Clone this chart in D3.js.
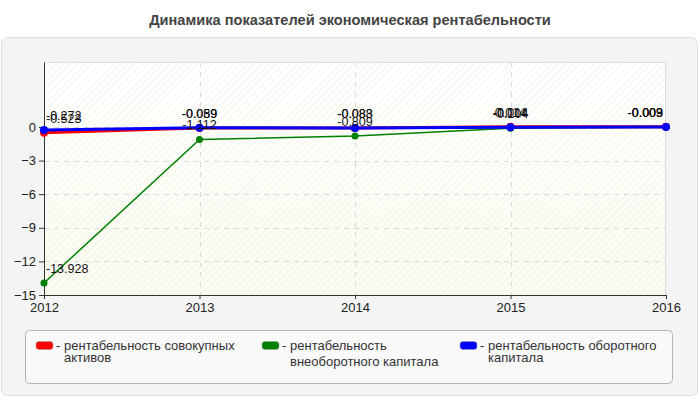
<!DOCTYPE html>
<html>
<head>
<meta charset="utf-8">
<script src="https://cdn.jsdelivr.net/npm/d3@7"></script>
<style>
  body { margin: 0; background: #fff; }
  text { font-family: "Liberation Sans Narrow", "Liberation Sans", Arial, sans-serif; }
</style>
</head>
<body>
<div id="chart"></div>
<script>
const years = [2012, 2013, 2014, 2015, 2016]
const seriesNames = [
    ['рентабельность совокупных', 'активов'],
    ['рентабельность', 'внеоборотного капитала'],
    ['рентабельность оборотного', 'капитала']
]
const totalAssets = [-0.523, -0.089, -0.088, 0.014, 0.009]
const fixedCapital = [-13.928, -1.112, -0.809, -0.104, -0.009]
const workingCapital = [-0.272, -0.059, -0.083, -0.014, -0.003]
const yTicks = [0, -3, -6, -9, -12, -15]
const colors = ['#ff0000', '#008000', '#0000ff']

const width = 700, height = 400
const margins = { top: 62, right: 34, bottom: 105, left: 44 }
const innerW = width - margins.left - margins.right
const innerH = height - margins.top - margins.bottom

const svg = d3.select('#chart').append('svg')
    .attr('width', width)
    .attr('height', height)

// hatch + gradient for plot background
const defs = svg.append('defs')
const hatch = defs.append('pattern')
    .attr('id', 'hatch')
    .attr('patternUnits', 'userSpaceOnUse')
    .attr('width', 5).attr('height', 5)
    .attr('patternTransform', 'rotate(45)')
hatch.append('line')
    .attr('x1', 0).attr('y1', 0).attr('x2', 0).attr('y2', 5)
    .attr('stroke', '#ececec').attr('stroke-width', 1.3)
const grad = defs.append('linearGradient')
    .attr('id', 'bggrad').attr('x1', 0).attr('y1', 0).attr('x2', 0).attr('y2', 1)
grad.append('stop').attr('offset', '0%').attr('stop-color', '#ffffff')
grad.append('stop').attr('offset', '25%').attr('stop-color', '#fffffb')
grad.append('stop').attr('offset', '100%').attr('stop-color', '#fcfcf0')

// title
svg.append('text')
    .attr('x', width / 2).attr('y', 25)
    .attr('text-anchor', 'middle')
    .style('font-family', '"Liberation Sans", Arial, sans-serif')
    .style('font-weight', 'bold')
    .style('font-size', '14.6px')
    .attr('fill', '#444')
    .text('Динамика показателей экономическая рентабельности')

// outer panel
svg.append('rect')
    .attr('x', 1.5).attr('y', 37.5)
    .attr('width', 696).attr('height', 358)
    .attr('rx', 6)
    .attr('fill', '#f4f4f4')
    .attr('stroke', '#dedede')

const xScale = d3.scalePoint()
    .domain(years)
    .range([0, innerW])

const yScale = d3.scaleLinear()
    .domain([-15, 5.8])
    .range([innerH, 0])

const chart_area = svg.append('g')
    .attr('transform', 'translate(' + margins.left + ',' + margins.top + ')')

chart_area.append('rect')
    .attr('width', innerW).attr('height', innerH)
    .attr('fill', 'url(#bggrad)')
chart_area.append('rect')
    .attr('width', innerW).attr('height', innerH)
    .attr('fill', 'url(#hatch)')
chart_area.append('rect')
    .attr('x', 0.5).attr('y', 0.5)
    .attr('width', innerW - 1).attr('height', innerH)
    .attr('fill', 'none')
    .attr('stroke', '#dcdcdc')

// grid lines
chart_area.append('g')
    .selectAll('line')
    .data(yTicks)
    .join('line')
    .attr('x1', 0).attr('x2', innerW)
    .attr('y1', d => Math.round(yScale(d)) + 0.5)
    .attr('y2', d => Math.round(yScale(d)) + 0.5)
    .attr('stroke', '#dadada')
    .attr('stroke-dasharray', '5,5')

chart_area.append('g')
    .selectAll('line')
    .data(years.slice(1, -1))
    .join('line')
    .attr('x1', d => Math.round(xScale(d)) + 0.5)
    .attr('x2', d => Math.round(xScale(d)) + 0.5)
    .attr('y1', 0).attr('y2', innerH)
    .attr('stroke', '#dadada')
    .attr('stroke-dasharray', '5,5')

// axes
const yAxis = chart_area.append('g')
    .call(d3.axisLeft(yScale).tickValues(yTicks).tickSize(5).tickSizeOuter(0))
yAxis.select('.domain').attr('stroke', '#333')
yAxis.selectAll('.tick line').attr('stroke', '#333')
yAxis.selectAll('.tick text')
    .style('font-size', '13px').attr('fill', '#222').attr('x', -8)

const xAxis = chart_area.append('g')
    .attr('transform', 'translate(0,' + innerH + ')')
    .call(d3.axisBottom(xScale).tickSize(4).tickSizeOuter(0))
xAxis.select('.domain').attr('stroke', '#333')
xAxis.selectAll('.tick line').attr('stroke', '#333')
xAxis.selectAll('.tick text')
    .style('font-size', '13px').attr('fill', '#222').attr('y', 8)

// series
const series = [
    { values: totalAssets, width: 3, r: 4 },
    { values: fixedCapital, width: 1.5, r: 3.5 },
    { values: workingCapital, width: 3, r: 4 }
]

const lineFun = d3.line()
    .x((d, i) => xScale(years[i]))
    .y(d => yScale(d))

series.forEach((s, k) => {
    chart_area.append('path')
        .datum(s.values)
        .attr('d', lineFun)
        .attr('fill', 'none')
        .attr('stroke', colors[k])
        .attr('stroke-width', s.width)

    chart_area.append('g')
        .selectAll('circle')
        .data(s.values)
        .join('circle')
        .attr('cx', (d, i) => xScale(years[i]))
        .attr('cy', d => yScale(d))
        .attr('r', s.r)
        .attr('fill', colors[k])
})

// value labels (centered, kept inside the plot)
series.forEach((s, k) => {
    chart_area.append('g')
        .selectAll('text')
        .data(s.values)
        .join('text')
        .style('font-size', '12.5px')
        .attr('fill', '#111')
        .attr('y', d => yScale(d) - 10)
        .text(d => d)
        .each(function (d, i) {
            const w = this.getComputedTextLength()
            let x = xScale(years[i]) - w / 2
            x = Math.max(2, Math.min(innerW - 3 - w, x))
            d3.select(this).attr('x', x)
        })
})

// legend
const legend = svg.append('g')
legend.append('rect')
    .attr('x', 25.5).attr('y', 330.5)
    .attr('width', 647).attr('height', 53)
    .attr('rx', 4)
    .attr('fill', '#f9f9f9')
    .attr('stroke', '#b4b4b4')

const legendX = [36, 262, 460]
seriesNames.forEach((name, k) => {
    const g = legend.append('g').attr('transform', 'translate(' + legendX[k] + ',0)')
    g.append('rect')
        .attr('x', 0).attr('y', 341.5)
        .attr('width', 17).attr('height', 8)
        .attr('rx', 3)
        .attr('fill', colors[k])
        .attr('stroke', '#999').attr('stroke-width', 0.5)
    g.append('text')
        .attr('x', 20).attr('y', 350)
        .style('font-size', '13px').attr('fill', '#333')
        .text('-')
    g.append('text')
        .attr('x', 28).attr('y', 350)
        .style('font-size', '13px').attr('fill', '#333')
        .text(name[0])
    g.append('text')
        .attr('x', 28).attr('y', k === 1 ? 366 : 362)
        .style('font-size', '13px').attr('fill', '#333')
        .text(name[1])
})
</script>
</body>
</html>
